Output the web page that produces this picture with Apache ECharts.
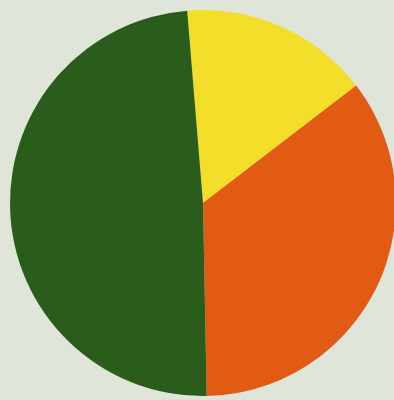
<!DOCTYPE html>
<html>
<head>
<meta charset="utf-8">
<script src="https://cdn.jsdelivr.net/npm/echarts@6/dist/echarts.min.js"></script>
<style>
  html, body { margin: 0; padding: 0; background: #dfe5d9; }
  #chart { width: 394px; height: 400px; }
</style>
</head>
<body>
<div id="chart"></div>
<script>
// slices, clockwise from just left of 12 o'clock
var names = ['A', 'B', 'C']
var values = [15.9, 35.1, 49]
var colors = ['#f3df2a', '#e25b12', '#2a5c1b']

var myChart = echarts.init(document.getElementById('chart'))
var seriesData = names.map(function (n, i) {
  return { name: n, value: values[i], itemStyle: { color: colors[i] } }
})

var option = {
  backgroundColor: '#dfe5d9',
  animation: false,
  series: [{
    type: 'pie',
    center: [203, 203],
    radius: 193,
    startAngle: 94.7,
    clockwise: true,
    label: { show: false },
    labelLine: { show: false },
    itemStyle: { borderWidth: 0 },
    emphasis: { disabled: true },
    data: seriesData
  }]
}
myChart.setOption(option, true)
</script>
</body>
</html>
